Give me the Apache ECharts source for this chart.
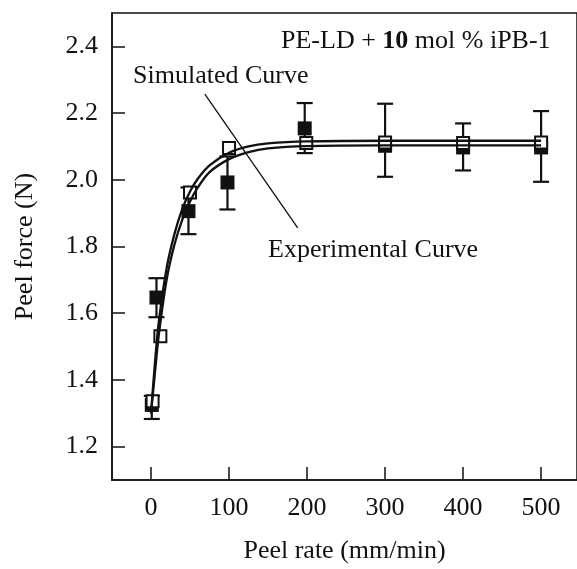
<!DOCTYPE html>
<html>
<head>
<meta charset="utf-8">
<script src="https://cdn.jsdelivr.net/npm/echarts@6/dist/echarts.min.js"></script>
<style>html,body{margin:0;padding:0;background:#fff;}#c{width:577px;height:569px;}</style>
</head>
<body>
<div id="c"></div>
<script>
// ---- data ----
var xTicks = [0, 100, 200, 300, 400, 500];
var yTicks = [1.2, 1.4, 1.6, 1.8, 2.0, 2.2, 2.4];

// experimental (filled squares) with error bars
var expX    = [1, 7, 48, 98, 197, 300, 400, 500];
var expY    = [1.325, 1.647, 1.906, 1.992, 2.154, 2.102, 2.097, 2.097];
var expLow  = [1.283, 1.588, 1.837, 1.911, 2.080, 2.009, 2.028, 1.994];
var expHigh = [1.352, 1.705, 1.977, 2.070, 2.230, 2.228, 2.169, 2.206];

// simulated (open squares)
var simX = [2, 12, 50, 100, 199, 300, 400, 500];
var simY = [1.336, 1.531, 1.962, 2.095, 2.110, 2.112, 2.110, 2.112];

// curves
var curveX    = [0, 5, 10, 20, 30, 40, 50, 60, 75, 100, 125, 150, 200, 300, 400, 500];
var simCurveY = [1.30, 1.45, 1.575, 1.735, 1.837, 1.912, 1.965, 2.003, 2.043, 2.081, 2.100, 2.109, 2.115, 2.117, 2.117, 2.117];
var expCurveY = [1.30, 1.42, 1.535, 1.70, 1.805, 1.88, 1.935, 1.977, 2.023, 2.062, 2.083, 2.094, 2.101, 2.103, 2.103, 2.103];

// pointer line between the two curve labels
var pointerLine = [[69, 2.257], [188, 1.856]];

// ---- build ----
var FONT = '"Liberation Serif", "DejaVu Serif", serif';
function zip(a, b) { return a.map(function (v, i) { return [v, b[i]]; }); }
var errData = expX.map(function (x, i) { return [x, expLow[i], expHigh[i]]; });

var chart = echarts.init(document.getElementById('c'), null, {renderer: 'canvas'});
chart.setOption({
  animation: false,
  backgroundColor: '#fff',
  grid: {left: 112, top: 13, right: -10, bottom: 82, show: true, borderColor: '#111', borderWidth: 1.5, backgroundColor: 'transparent'},
  xAxis: {
    type: 'value', min: -50, max: 546,
    name: 'Peel rate (mm/min)', nameLocation: 'middle', nameGap: 58,
    nameTextStyle: {fontFamily: FONT, fontSize: 26, color: '#111'},
    axisLine: {show: true, onZero: false, lineStyle: {color: '#111', width: 1.5}},
    axisTick: {show: true, inside: true, length: 13, lineStyle: {color: '#111', width: 1.5}, customValues: xTicks},
    axisLabel: {fontFamily: FONT, fontSize: 26, color: '#111', margin: 15, customValues: xTicks},
    splitLine: {show: false}
  },
  yAxis: {
    type: 'value', min: 1.1, max: 2.5,
    name: 'Peel force (N)', nameLocation: 'middle', nameGap: 74, nameRotate: 90,
    nameTextStyle: {fontFamily: FONT, fontSize: 26, color: '#111'},
    axisLine: {show: true, onZero: false, lineStyle: {color: '#111', width: 1.5}},
    axisTick: {show: true, inside: true, length: 13, lineStyle: {color: '#111', width: 1.5}, customValues: yTicks},
    axisLabel: {fontFamily: FONT, fontSize: 26, color: '#111', margin: 14, customValues: yTicks,
      formatter: function (v) { return v.toFixed(1); }},
    splitLine: {show: false}
  },
  series: [
    {
      type: 'custom', name: 'err', data: errData, z: 2,
      renderItem: function (params, api) {
        var x = api.value(0);
        var lo = api.coord([x, api.value(1)]);
        var hi = api.coord([x, api.value(2)]);
        var hw = 8;
        var st = {stroke: '#111', lineWidth: 2.2};
        return {type: 'group', children: [
          {type: 'line', shape: {x1: lo[0], y1: lo[1], x2: hi[0], y2: hi[1]}, style: st},
          {type: 'line', shape: {x1: lo[0] - hw, y1: lo[1], x2: lo[0] + hw, y2: lo[1]}, style: st},
          {type: 'line', shape: {x1: hi[0] - hw, y1: hi[1], x2: hi[0] + hw, y2: hi[1]}, style: st}
        ]};
      }
    },
    {
      type: 'scatter', name: 'Experimental', data: zip(expX, expY), z: 3,
      symbol: 'rect', symbolSize: 14, itemStyle: {color: '#111', opacity: 1}
    },
    {
      type: 'scatter', name: 'Simulated', data: zip(simX, simY), z: 4,
      symbol: 'rect', symbolSize: 12, itemStyle: {color: '#fff', borderColor: '#111', borderWidth: 2, opacity: 1}
    },
    {
      type: 'line', name: 'Simulated Curve', data: zip(curveX, simCurveY), z: 5,
      smooth: 0.3, showSymbol: false, symbol: 'none', lineStyle: {color: '#111', width: 2.3}
    },
    {
      type: 'line', name: 'Experimental Curve', data: zip(curveX, expCurveY), z: 5,
      smooth: 0.3, showSymbol: false, symbol: 'none', lineStyle: {color: '#111', width: 2.3}
    },
    {
      type: 'line', name: 'pointer', data: pointerLine, z: 6,
      showSymbol: false, symbol: 'none', lineStyle: {color: '#111', width: 1.3}
    }
  ],
  graphic: [
    {type: 'text', left: 281, top: 28, z: 10, style: {
      text: '{n|PE-LD + }{b|10}{n| mol % iPB-1}',
      rich: {
        n: {fontFamily: FONT, fontSize: 26, fill: '#111'},
        b: {fontFamily: FONT, fontSize: 26, fontWeight: 'bold', fill: '#111'}
      }
    }},
    {type: 'text', left: 133, top: 63, z: 10, style: {text: 'Simulated Curve', font: '26px ' + FONT, fill: '#111'}},
    {type: 'text', left: 268, top: 237, z: 10, style: {text: 'Experimental Curve', font: '26px ' + FONT, fill: '#111'}}
  ]
});
</script>
</body>
</html>
